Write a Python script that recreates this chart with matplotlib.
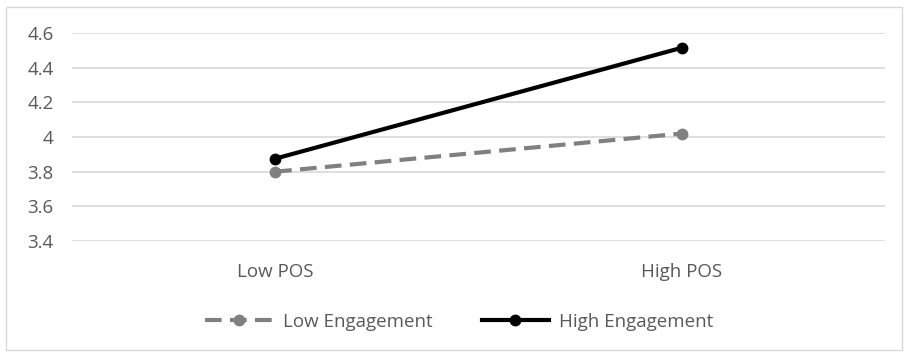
import matplotlib
matplotlib.use("Agg")
import matplotlib.pyplot as plt
import matplotlib.patches as patches

categories = ["Low POS", "High POS"]
low_engagement = [3.80, 4.02]
high_engagement = [3.875, 4.515]
y_ticks = [3.4, 3.6, 3.8, 4.0, 4.2, 4.4, 4.6]
y_labels = ["3.4", "3.6", "3.8", "4", "4.2", "4.4", "4.6"]

plt.rcParams['font.family'] = ['Open Sans', 'DejaVu Sans']

fig = plt.figure(figsize=(9.08, 3.55), dpi=100)
ax = fig.add_axes([0.079, 0.321, 0.896, 0.586])

# light frame round the whole chart
fig.patches.append(patches.Rectangle((0.007, 0.015), 0.986, 0.965, transform=fig.transFigure,
                                     fill=False, edgecolor='#d9d9d9', linewidth=1.0))

x = list(range(len(categories)))
ax.plot(x, low_engagement, color='#808080', linestyle=(0, (4, 2)), linewidth=3,
        marker='o', markersize=7.5, label='Low Engagement')
ax.plot(x, high_engagement, color='black', linewidth=3,
        marker='o', markersize=7.5, label='High Engagement')

ax.set_xlim(-0.5, 1.5)
ax.set_ylim(3.4, 4.6)
ax.set_yticks(y_ticks)
ax.set_yticklabels(y_labels)
ax.set_xticks(x)
ax.set_xticklabels(categories)
ax.grid(axis='y', color='#d9d9d9', linewidth=1.2)
ax.set_axisbelow(True)
for s in ax.spines.values():
    s.set_visible(False)
ax.tick_params(length=0, labelsize=13.5, labelcolor='#595959')
ax.tick_params(axis='x', pad=16)
ax.tick_params(axis='y', pad=13)

leg = fig.legend(loc='center', bbox_to_anchor=(0.506, 0.093), ncol=2, frameon=False,
                 fontsize=13.5, handlelength=3.6, handletextpad=0.55, columnspacing=2.6)
for t in leg.get_texts():
    t.set_color('#595959')

fig.savefig("out.png", dpi=100)
